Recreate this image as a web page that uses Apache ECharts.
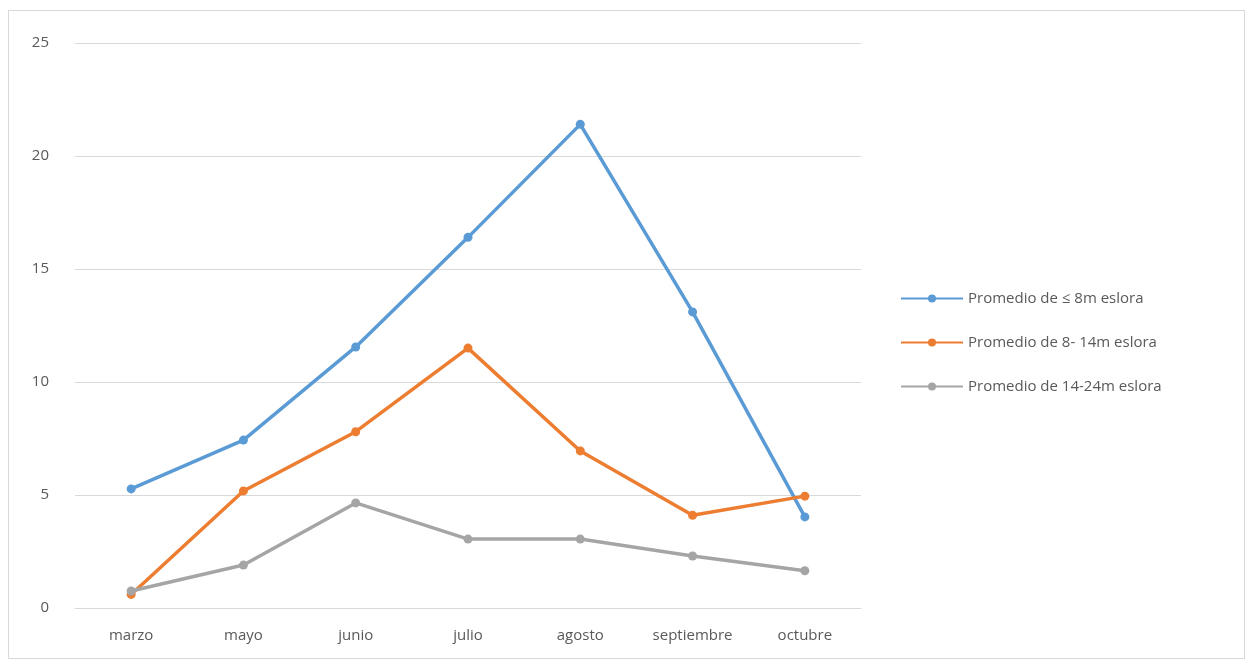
<!DOCTYPE html>
<html>
<head>
<meta charset="utf-8">
<script src="https://cdn.jsdelivr.net/npm/echarts@6/dist/echarts.min.js"></script>
<style>
html,body{margin:0;padding:0;background:#fff;}
#c{position:absolute;left:8px;top:10px;width:1237px;height:649px;border:1px solid #d9d9d9;box-sizing:border-box;}
</style>
</head>
<body>
<div id="c"></div>
<script>
const categories = ['marzo','mayo','junio','julio','agosto','septiembre','octubre'];
const yTicks = [0,5,10,15,20,25];
const seriesNames = ['Promedio de \u2264 8m eslora','Promedio de 8- 14m eslora','Promedio de 14-24m eslora'];
const s1 = [5.27, 7.43, 11.55, 16.4, 21.4, 13.1, 4.03];
const s2 = [0.6, 5.18, 7.8, 11.5, 6.95, 4.1, 4.95];
const s3 = [0.75, 1.9, 4.65, 3.05, 3.05, 2.3, 1.65];
const colors = ['#5B9BD5','#ED7D31','#A5A5A5'];

const chart = echarts.init(document.getElementById('c'));
const fontFam = 'Open Sans, Liberation Sans, sans-serif';
function mk(name, data, color){
  return {name:name, type:'line', data:data, symbol:'circle', symbolSize:9,
    lineStyle:{width:3.5,color:color}, itemStyle:{color:color}};
}
chart.setOption({
  animation:false,
  color: colors,
  grid:{left:66, right:383, top:32, bottom:50},
  legend:{orient:'vertical', left:886, top:275, itemWidth:62, itemHeight:10, itemGap:29,
    textStyle:{color:'#595959', fontSize:15, fontFamily:fontFam},
    data: seriesNames},
  xAxis:{type:'category', data:categories, boundaryGap:true,
    axisLine:{lineStyle:{color:'#d9d9d9'}}, axisTick:{show:false},
    axisLabel:{color:'#595959', fontSize:15, fontFamily:fontFam, margin:20, interval:0}},
  yAxis:{type:'value', min:yTicks[0], max:yTicks[yTicks.length-1], interval:5,
    axisLine:{show:false}, axisTick:{show:false},
    axisLabel:{color:'#595959', fontSize:15, fontFamily:fontFam, margin:26},
    splitLine:{lineStyle:{color:'#d9d9d9', width:1}}},
  series:[mk(seriesNames[0], s1, colors[0]), mk(seriesNames[1], s2, colors[1]), mk(seriesNames[2], s3, colors[2])]
});
</script>
</body>
</html>
